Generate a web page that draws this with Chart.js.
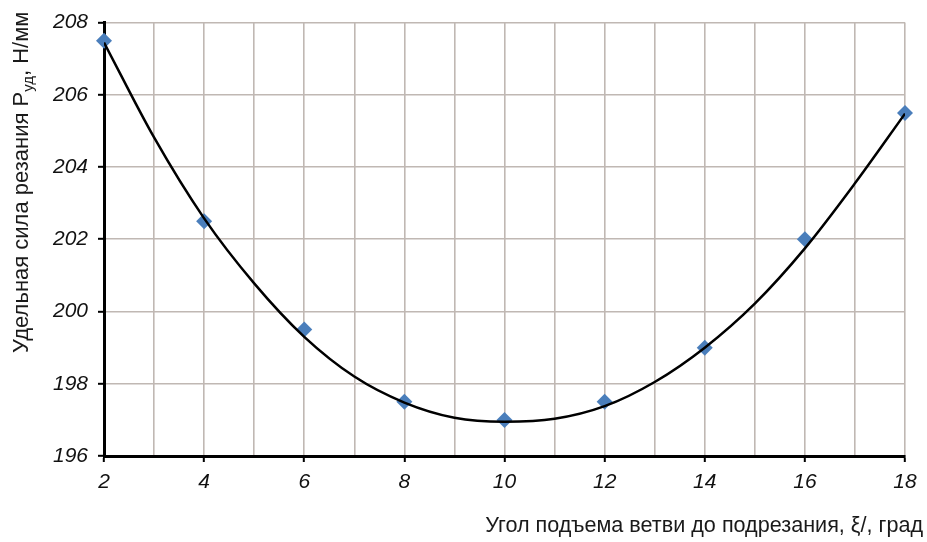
<!DOCTYPE html>
<html>
<head>
<meta charset="utf-8">
<script src="https://cdn.jsdelivr.net/npm/chart.js@4.4.1/dist/chart.umd.min.js"></script>
<style>
  html, body { margin: 0; padding: 0; background: #fff; }
  #wrap { width: 927px; height: 542px; position: relative; }
</style>
</head>
<body>
<div id="wrap"><canvas id="c" width="927" height="542"></canvas></div>
<script>
// Measured points
const xValues = [2, 4, 6, 8, 10, 12, 14, 16, 18];
const yValues = [207.5, 202.5, 199.5, 197.5, 197, 197.5, 199, 202, 205.5];

// Trend curve at each integer angle
const curveX = [2, 3, 4, 5, 6, 7, 8, 9, 10, 11, 12, 13, 14, 15, 16, 17, 18];
const curveY = [207.45, 204.82, 202.58, 200.78, 199.3, 198.2, 197.48, 197.06, 196.95, 197.03, 197.38, 198.05, 199.0, 200.22, 201.75, 203.55, 205.48];

// Axis settings / labels
const xMin = 2, xMax = 18;
const yMin = 196, yMax = 208, yStep = 2;
const xTitle = 'Угол подъема ветви до подрезания, ξ/, град';
const yTitleMain = 'Удельная сила резания P';
const yTitleSub = 'уд';
const yTitleEnd = ', Н/мм';

const points = xValues.map((x, i) => ({ x: x, y: yValues[i] }));
const curve = curveX.map((x, i) => ({ x: x, y: curveY[i] }));

const FONT = '"Liberation Sans", Arial, sans-serif';
const GRID = '#c0b8b3';

const titlesPlugin = {
  id: 'titles',
  afterDraw(chart) {
    const ctx = chart.ctx;
    ctx.save();
    ctx.fillStyle = '#1a1a1a';
    // X title, right aligned
    ctx.font = '21.6px ' + FONT;
    ctx.textAlign = 'right';
    ctx.textBaseline = 'alphabetic';
    ctx.fillText(xTitle, 923, 532);
    // Y title rotated with subscript
    ctx.translate(28, 353);
    ctx.rotate(-Math.PI / 2);
    ctx.textAlign = 'left';
    ctx.font = '22px ' + FONT;
    ctx.fillText(yTitleMain, 0, 0);
    let w = ctx.measureText(yTitleMain).width;
    ctx.font = '15px ' + FONT;
    ctx.fillText(yTitleSub, w, 5);
    w += ctx.measureText(yTitleSub).width;
    ctx.font = '22px ' + FONT;
    ctx.fillText(yTitleEnd, w, 0);
    ctx.restore();
  }
};

new Chart(document.getElementById('c'), {
  type: 'scatter',
  data: {
    datasets: [
      {
        label: 'trend',
        data: curve,
        showLine: true,
        borderColor: '#000',
        borderWidth: 2.5,
        pointRadius: 0,
        pointHoverRadius: 0,
        cubicInterpolationMode: 'monotone',
        fill: false,
        order: 0
      },
      {
        label: 'points',
        data: points,
        showLine: false,
        clip: false,
        pointStyle: 'rectRot',
        pointRadius: 8,
        pointHoverRadius: 8,
        backgroundColor: '#4a7ebb',
        borderColor: '#4a7ebb',
        borderWidth: 0,
        order: 1
      }
    ]
  },
  options: {
    responsive: false,
    animation: false,
    events: [],
    layout: { padding: { left: 0, right: 22, top: 18, bottom: 0 } },
    plugins: {
      legend: { display: false },
      tooltip: { enabled: false },
      title: { display: false }
    },
    scales: {
      x: {
        type: 'linear',
        min: xMin,
        max: xMax,
        afterFit(scale) { scale.height = 86; },
        border: { display: true, color: '#000', width: 3 },
        grid: {
          color: GRID,
          lineWidth: 1.6,
          drawTicks: true,
          tickLength: 6,
          tickWidth: 2,
          tickColor: (c) => (c.tick && c.tick.value % 2 === 0) ? '#000' : 'rgba(0,0,0,0)'
        },
        ticks: {
          stepSize: 1,
          autoSkip: false,
          maxRotation: 0,
          padding: 8,
          color: '#111',
          font: { family: FONT, size: 21, style: 'italic' },
          callback: (v) => (v % 2 === 0 ? String(v) : '')
        }
      },
      y: {
        type: 'linear',
        min: yMin,
        max: yMax,
        afterFit(scale) { scale.width = 104; },
        border: { display: true, color: '#000', width: 3 },
        grid: {
          color: GRID,
          lineWidth: 1.6,
          drawTicks: true,
          tickLength: 6,
          tickWidth: 2,
          tickColor: '#000'
        },
        ticks: {
          stepSize: yStep,
          padding: 10,
          color: '#111',
          font: { family: FONT, size: 21, style: 'italic' }
        }
      }
    }
  },
  plugins: [titlesPlugin]
});
</script>
</body>
</html>
